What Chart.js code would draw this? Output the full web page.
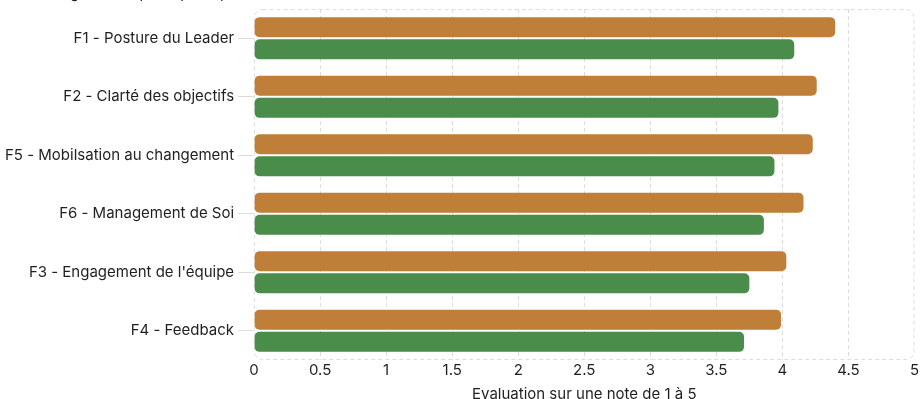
<!DOCTYPE html>
<html>
<head>
<meta charset="utf-8">
<script src="https://cdn.jsdelivr.net/npm/chart.js@4/dist/chart.umd.min.js"></script>
<style>
  html, body { margin: 0; padding: 0; background: #fff; overflow: hidden; }
  .wrap { width: 920px; height: 399px; overflow: hidden; }
  .inner { width: 920px; height: 415px; margin-top: -16px; position: relative; }
</style>
</head>
<body>
<div class="wrap">
  <div class="inner"><canvas id="myChart"></canvas></div>
</div>
<script>
let categories = [
  "F1 - Posture du Leader",
  "F2 - Clarté des objectifs",
  "F5 - Mobilsation au changement",
  "F6 - Management de Soi",
  "F3 - Engagement de l'équipe",
  "F4 - Feedback",
];
let autoEval = [4.4, 4.26, 4.23, 4.16, 4.03, 3.99];
let teamEval = [4.09, 3.97, 3.94, 3.86, 3.75, 3.71];
let xTicks = [0, 0.5, 1, 1.5, 2, 2.5, 3, 3.5, 4, 4.5, 5];

const fontFamily = "Inter, 'Noto Sans', sans-serif";
const textColor = "#1f1f1f";
const gridColor = "#dcdcdc";

// dashed rounded frame around the plot area
const frame = {
  id: "frame",
  beforeDatasetsDraw(chart) {
    const { ctx, chartArea: a } = chart;
    ctx.save();
    ctx.strokeStyle = gridColor;
    ctx.lineWidth = 1;
    ctx.setLineDash([4, 3]);
    ctx.beginPath();
    ctx.roundRect(a.left + 0.5, a.top + 0.5, a.right - a.left - 1, a.bottom - a.top - 1, 8);
    ctx.stroke();
    ctx.restore();
  },
};

var ctx = document.getElementById("myChart").getContext("2d");
var myChart = new Chart(ctx, {
  type: "bar",
  data: {
    labels: categories,
    datasets: [
      {
        label: "Auto-évaluation",
        data: autoEval,
        backgroundColor: "#bf7f38",
        borderRadius: 5,
        borderSkipped: false,
      },
      {
        label: "Évaluation de l'équipe",
        data: teamEval,
        backgroundColor: "#4a8c4a",
        borderRadius: 5,
        borderSkipped: false,
      },
    ],
  },
  options: {
    indexAxis: "y",
    responsive: true,
    maintainAspectRatio: false,
    animation: false,
    datasets: { bar: { categoryPercentage: 0.76, barPercentage: 0.9 } },
    layout: { padding: { left: 1, right: -14, top: 0, bottom: -4 } },
    plugins: {
      legend: { display: false },
      tooltip: { enabled: false },
      title: {
        display: true,
        text: "Résultats globaux : perception par leader",
        align: "start",
        color: textColor,
        font: { family: fontFamily, size: 15, weight: "normal" },
        padding: { top: 0, bottom: 7 },
      },
    },
    scales: {
      x: {
        min: 0,
        max: 5,
        afterBuildTicks: (axis) => {
          axis.ticks = xTicks.map((v) => ({ value: v }));
        },
        grid: {
          color: (c) => (c.index === 0 || c.index === xTicks.length - 1 ? "transparent" : gridColor),
          drawTicks: false,
        },
        border: { display: false, dash: [4, 3] },
        ticks: {
          color: textColor,
          padding: 1,
          font: { family: fontFamily, size: 15 },
          callback: (v) => String(v),
        },
        title: {
          display: true,
          text: "Evaluation sur une note de 1 à 5",
          color: textColor,
          font: { family: fontFamily, size: 15 },
          padding: { top: 5, bottom: 0 },
        },
      },
      y: {
        border: { display: false, dash: [4, 3] },
        grid: {
          offset: false,
          drawOnChartArea: false,
          drawTicks: true,
          tickLength: 16,
          color: gridColor,
        },
        ticks: {
          color: textColor,
          padding: 4,
          font: { family: fontFamily, size: 15 },
        },
      },
    },
  },
  plugins: [frame],
});
</script>
</body>
</html>
